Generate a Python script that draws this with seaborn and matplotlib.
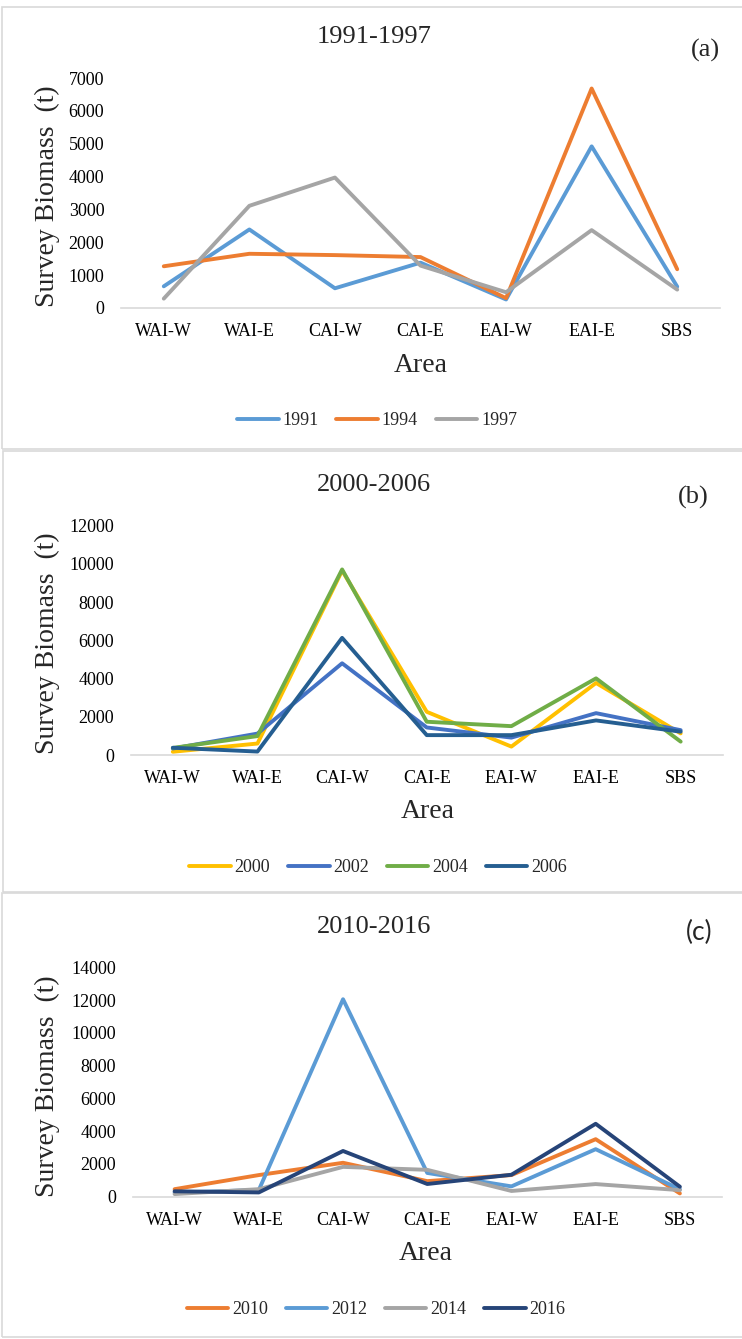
import matplotlib
matplotlib.use("Agg")
import matplotlib.pyplot as plt
from matplotlib.patches import Rectangle
import pandas as pd
import seaborn as sns

# Survey areas along the Aleutian chain and southern Bering Sea
areas = ["WAI-W", "WAI-E", "CAI-W", "CAI-E", "EAI-W", "EAI-E", "SBS"]

# Panel (a): 1991-1997
years_a = ["1991", "1994", "1997"]
b1991 = [660, 2390, 600, 1380, 260, 4920, 650]
b1994 = [1270, 1650, 1610, 1550, 300, 6680, 1180]
b1997 = [285, 3110, 3970, 1290, 480, 2370, 560]

# Panel (b): 2000-2006
years_b = ["2000", "2002", "2004", "2006"]
b2000 = [170, 600, 9650, 2260, 440, 3770, 1130]
b2002 = [340, 1120, 4800, 1440, 910, 2190, 1300]
b2004 = [370, 990, 9710, 1740, 1510, 4010, 700]
b2006 = [380, 180, 6130, 1040, 1040, 1810, 1220]

# Panel (c): 2010-2016
years_c = ["2010", "2012", "2014", "2016"]
b2010 = [460, 1320, 2070, 950, 1320, 3510, 200]
b2012 = [250, 410, 12050, 1450, 630, 2900, 450]
b2014 = [160, 460, 1820, 1640, 350, 770, 400]
b2016 = [330, 260, 2790, 775, 1340, 4450, 610]

pal_a = ["#5B9BD5", "#ED7D31", "#A5A5A5"]
pal_b = ["#FFC000", "#4472C4", "#70AD47", "#255E91"]
pal_c = ["#ED7D31", "#5B9BD5", "#A5A5A5", "#264478"]

sns.set_theme(style="white")
plt.rcParams["font.family"] = ["Liberation Serif", "DejaVu Serif"]

W, H = 742, 1339
fig = plt.figure(figsize=(W / 100, H / 100), dpi=100)
fig.patch.set_facecolor("white")


def long_form(years, series):
    rows = []
    for yr, vals in zip(years, series):
        for a, v in zip(areas, vals):
            rows.append({"Area": a, "Biomass": v, "Year": yr})
    return pd.DataFrame(rows)


def px_axes(x0, y0, x1, y1):
    return fig.add_axes([x0 / W, 1 - y1 / H, (x1 - x0) / W, (y1 - y0) / H])


panels = [
    dict(years=years_a, series=[b1991, b1994, b1997], pal=pal_a,
         box=(2, 7, 760, 449), ax=(121, 78, 720, 308), ymax=7000, step=1000,
         title="1991-1997", tpos=(374, 37), tag="(a)", tagpos=(705, 50),
         tagfont=["Liberation Serif"], ylab_y=196, area_pos=(421, 365),
         leg=(377, 421)),
    dict(years=years_b, series=[b2000, b2002, b2004, b2006], pal=pal_b,
         box=(3, 451, 760, 892), ax=(130.5, 525.7, 723, 755), ymax=12000, step=2000,
         title="2000-2006", tpos=(374, 485), tag="(b)", tagpos=(693, 497),
         tagfont=["Liberation Serif"], ylab_y=643, area_pos=(428, 811),
         leg=(378, 868)),
    dict(years=years_c, series=[b2010, b2012, b2014, b2016], pal=pal_c,
         box=(2, 893, 760, 1337), ax=(132.5, 967.3, 722, 1196.7), ymax=14000, step=2000,
         title="2010-2016", tpos=(374, 927), tag="(c)", tagpos=(699, 932),
         tagfont=["Lato", "DejaVu Sans"], ylab_y=1086, area_pos=(426, 1253),
         leg=(376, 1310)),
]

for p in panels:
    bx0, by0, bx1, by1 = p["box"]
    fig.patches.append(Rectangle((bx0 / W, 1 - by1 / H), (bx1 - bx0) / W, (by1 - by0) / H,
                                 transform=fig.transFigure, fill=False,
                                 edgecolor="#d9d9d9", linewidth=1.2, zorder=0))

    ax = px_axes(*p["ax"])
    df = long_form(p["years"], p["series"])
    sns.lineplot(data=df, x="Area", y="Biomass", hue="Year", sort=False,
                 palette=dict(zip(p["years"], p["pal"])), linewidth=2.8, ax=ax)
    handles, labels = ax.get_legend_handles_labels()
    ax.get_legend().remove()

    ax.set_xlim(-0.5, len(areas) - 0.5)
    ax.set_ylim(0, p["ymax"])
    ax.set_yticks(range(0, p["ymax"] + 1, p["step"]))
    ax.set_xlabel("")
    ax.set_ylabel("")
    for s in ["top", "right", "left"]:
        ax.spines[s].set_visible(False)
    ax.spines["bottom"].set_color("#d9d9d9")
    ax.spines["bottom"].set_linewidth(1.2)
    ax.tick_params(axis="both", length=0, labelsize=13, colors="black")
    ax.tick_params(axis="y", pad=12)
    ax.tick_params(axis="x", pad=11)
    ax.set_facecolor("none")

    fig.text(p["tpos"][0] / W, 1 - p["tpos"][1] / H, p["title"], fontsize=19,
             ha="center", va="center")
    fig.text(p["tagpos"][0] / W, 1 - p["tagpos"][1] / H, p["tag"], fontsize=19,
             ha="center", va="center", family=p["tagfont"])
    fig.text(47 / W, 1 - p["ylab_y"] / H, "Survey Biomass  (t)", fontsize=20,
             rotation=90, ha="center", va="center")
    fig.text(p["area_pos"][0] / W, 1 - p["area_pos"][1] / H, "Area", fontsize=20,
             ha="center", va="center")

    fig.legend(handles, labels, loc="center", ncol=len(labels), frameon=False,
               bbox_to_anchor=(p["leg"][0] / W, 1 - p["leg"][1] / H),
               fontsize=13, handlelength=2.3, handletextpad=0.2,
               columnspacing=1.0, borderaxespad=0)

fig.savefig("out.png", dpi=100, facecolor="white")
